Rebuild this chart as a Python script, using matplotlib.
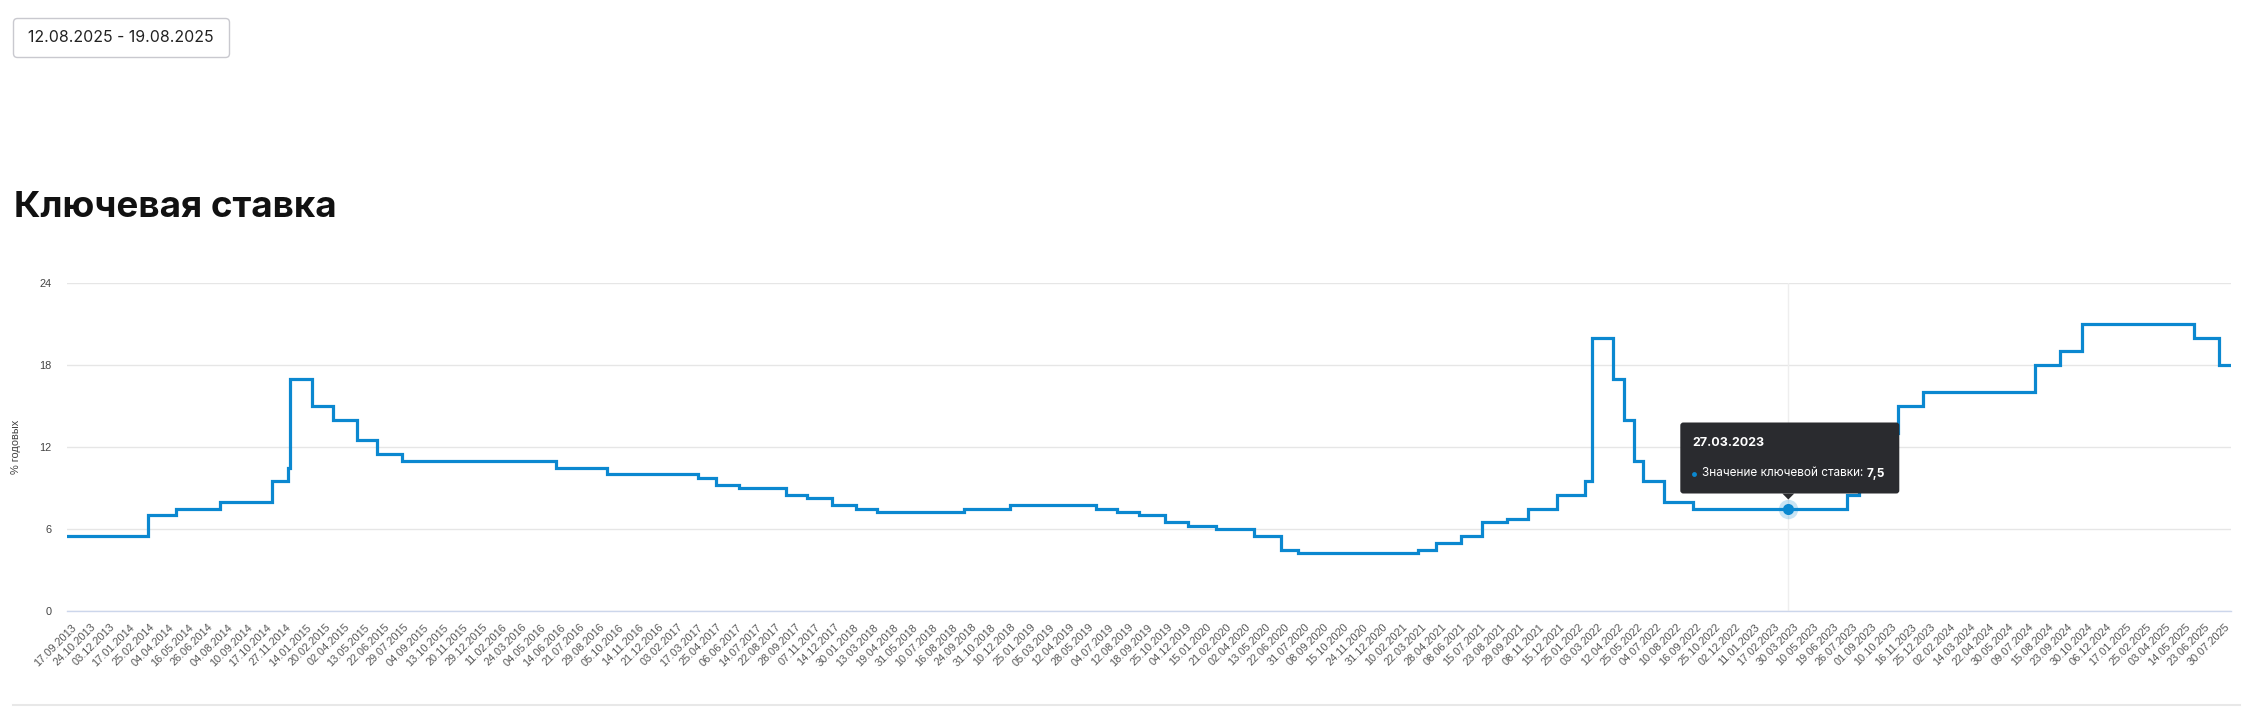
import matplotlib
matplotlib.use('Agg')
import matplotlib.pyplot as plt
import matplotlib.transforms as mtransforms
from matplotlib.patches import FancyBboxPatch, Polygon
import numpy as np
import pandas as pd

W, H = 2257, 709

# key rate changes (date the new rate starts, % per year)
rate_dates = ['17.09.2013', '03.03.2014', '28.04.2014', '28.07.2014', '05.11.2014',
              '12.12.2014', '16.12.2014', '02.02.2015', '16.03.2015', '05.05.2015',
              '16.06.2015', '03.08.2015', '14.06.2016', '19.09.2016', '27.03.2017',
              '02.05.2017', '19.06.2017', '18.09.2017', '30.10.2017', '18.12.2017',
              '12.02.2018', '26.03.2018', '17.09.2018', '17.12.2018', '17.06.2019',
              '29.07.2019', '09.09.2019', '28.10.2019', '16.12.2019', '10.02.2020',
              '27.04.2020', '22.06.2020', '27.07.2020', '22.03.2021', '26.04.2021',
              '15.06.2021', '26.07.2021', '13.09.2021', '25.10.2021', '20.12.2021',
              '14.02.2022', '28.02.2022', '11.04.2022', '04.05.2022', '27.05.2022',
              '14.06.2022', '25.07.2022', '19.09.2022', '24.07.2023', '15.08.2023',
              '18.09.2023', '30.10.2023', '18.12.2023', '29.07.2024', '16.09.2024',
              '28.10.2024', '09.06.2025', '28.07.2025']
rates = [5.5, 7, 7.5, 8, 9.5, 10.5, 17, 15, 14, 12.5,
         11.5, 11, 10.5, 10, 9.75, 9.25, 9, 8.5, 8.25, 7.75,
         7.5, 7.25, 7.5, 7.75, 7.5, 7.25, 7, 6.5, 6.25, 6,
         5.5, 4.5, 4.25, 4.5, 5, 5.5, 6.5, 6.75, 7.5, 8.5,
         9.5, 20, 17, 14, 11, 9.5, 8, 7.5, 8.5, 12,
         13, 15, 16, 18, 19, 21, 20, 18]
end_date = '19.08.2025'

# category labels shown under the axis
tick_labels = ['17.09.2013', '24.10.2013', '03.12.2013', '17.01.2014', '25.02.2014', '04.04.2014',
               '16.05.2014', '26.06.2014', '04.08.2014', '10.09.2014', '17.10.2014', '27.11.2014',
               '14.01.2015', '20.02.2015', '02.04.2015', '13.05.2015', '22.06.2015', '29.07.2015',
               '04.09.2015', '13.10.2015', '20.11.2015', '29.12.2015', '11.02.2016', '24.03.2016',
               '04.05.2016', '14.06.2016', '21.07.2016', '29.08.2016', '05.10.2016', '14.11.2016',
               '21.12.2016', '03.02.2017', '17.03.2017', '25.04.2017', '06.06.2017', '14.07.2017',
               '22.08.2017', '28.09.2017', '07.11.2017', '14.12.2017', '30.01.2018', '13.03.2018',
               '19.04.2018', '31.05.2018', '10.07.2018', '16.08.2018', '24.09.2018', '31.10.2018',
               '10.12.2018', '25.01.2019', '05.03.2019', '12.04.2019', '28.05.2019', '04.07.2019',
               '12.08.2019', '18.09.2019', '25.10.2019', '04.12.2019', '15.01.2020', '21.02.2020',
               '02.04.2020', '13.05.2020', '22.06.2020', '31.07.2020', '08.09.2020', '15.10.2020',
               '24.11.2020', '31.12.2020', '10.02.2021', '22.03.2021', '28.04.2021', '08.06.2021',
               '15.07.2021', '23.08.2021', '29.09.2021', '08.11.2021', '15.12.2021', '25.01.2022',
               '03.03.2022', '12.04.2022', '25.05.2022', '04.07.2022', '10.08.2022', '16.09.2022',
               '25.10.2022', '02.12.2022', '11.01.2023', '17.02.2023', '30.03.2023', '10.05.2023',
               '19.06.2023', '26.07.2023', '01.09.2023', '10.10.2023', '16.11.2023', '25.12.2023',
               '02.02.2024', '14.03.2024', '22.04.2024', '30.05.2024', '09.07.2024', '15.08.2024',
               '23.09.2024', '30.10.2024', '06.12.2024', '17.01.2025', '25.02.2025', '03.04.2025',
               '14.05.2025', '23.06.2025', '30.07.2025']

hover_date = '27.03.2023'
hover_value = 7.5
date_range = '12.08.2025 - 19.08.2025'

BLUE = '#0b88d0'


def to_num(s):
    return pd.to_datetime(s, format='%d.%m.%Y').map(pd.Timestamp.toordinal).to_numpy(dtype=float) \
        if not isinstance(s, str) else float(pd.to_datetime(s, format='%d.%m.%Y').toordinal())


tick_num = to_num(pd.Series(tick_labels))
tick_idx = np.arange(len(tick_labels), dtype=float)


def cat_pos(d):
    # category position of a date: interpolate between labelled points
    n = to_num(d)
    last_step = tick_num[-1] - tick_num[-2]
    return np.where(n > tick_num[-1],
                    tick_idx[-1] + (n - tick_num[-1]) / last_step,
                    np.interp(n, tick_num, tick_idx))


xs = cat_pos(pd.Series(rate_dates))
x_end = float(cat_pos(end_date))
step_x = np.append(xs, x_end)
step_y = np.append(rates, rates[-1])

fig = plt.figure(figsize=(W / 100, H / 100), dpi=100)
ax = fig.add_axes([67 / W, 1 - 611 / H, (2231 - 67) / W, (611 - 283) / H])

ax.set_xlim(0, x_end)
ax.set_ylim(0, 24)
ax.set_yticks([0, 6, 12, 18, 24])
ax.grid(axis='y', color='#e6e6e6', lw=1.0)
ax.set_axisbelow(True)
for s in ['top', 'right', 'left']:
    ax.spines[s].set_visible(False)
ax.spines['bottom'].set_color('#ccd6eb')
ax.spines['bottom'].set_linewidth(1.0)

hx = float(cat_pos(hover_date))
ax.axvline(hx, color='#eeeeee', lw=1.0, zorder=1)

ax.step(step_x, step_y, where='post', color=BLUE, lw=2.3, zorder=3, solid_joinstyle='miter')

ax.plot([hx], [hover_value], 'o', ms=14, color=BLUE, alpha=0.22, mew=0, zorder=4)
ax.plot([hx], [hover_value], 'o', ms=8, color=BLUE, mew=0, zorder=5)

ax.set_xticks(tick_idx)
ax.set_xticklabels(tick_labels, rotation=45, ha='right', va='top', rotation_mode='anchor',
                   fontsize=7.9, color='#555555', family='Liberation Sans')
ax.tick_params(axis='x', length=0, pad=8)
ax.tick_params(axis='y', length=0, pad=11, labelsize=7.9, labelcolor='#444444')
for lab in ax.get_yticklabels():
    lab.set_family('Liberation Sans')
shift = mtransforms.ScaledTranslation(4 / 100, 0, fig.dpi_scale_trans)
for lab in ax.get_xticklabels():
    lab.set_transform(lab.get_transform() + shift)

fig.text(16 / W, 1 - 447 / H, '% годовых', rotation=90, ha='center', va='center',
         fontsize=7.9, color='#444444', family='Liberation Sans')

# header
fig.text(14 / W, 1 - 217 / H, 'Ключевая ставка', fontsize=26.5, fontweight='bold',
         family='Inter', color='#111111', va='baseline')

ident = mtransforms.IdentityTransform()
fig.patches.append(FancyBboxPatch((13.5, H - 57.5), 216, 39, boxstyle='round,pad=0,rounding_size=4',
                                  fc='white', ec='#c9c9cf', lw=1.0, transform=ident, figure=fig))
fig.text(121 / W, 1 - 38 / H, date_range, ha='center', va='center', fontsize=11.4,
         family='Inter', color='#222222')

fig.add_artist(plt.Line2D([13 / W, 2240 / W], [1 - 705 / H, 1 - 705 / H], color='#e8e8e8', lw=1.5))

# tooltip
mx, my = ax.transData.transform((hx, hover_value))
box_l, box_r = mx - 108, mx + 111
box_b, box_t = my + 15, my + 86
fig.patches.append(FancyBboxPatch((box_l, box_b), box_r - box_l, box_t - box_b,
                                  boxstyle='round,pad=0,rounding_size=3', fc='#2a2b2f', ec='none',
                                  transform=ident, figure=fig, zorder=10))
fig.patches.append(Polygon([(mx - 6, box_b), (mx + 6, box_b), (mx, box_b - 6)], closed=True,
                           fc='#2a2b2f', ec='none', transform=ident, figure=fig, zorder=10))
fig.text((box_l + 12) / W, (my + 66) / H, hover_date, color='white', fontweight='bold',
         fontsize=9, family='Inter', va='center', zorder=11)
fig.add_artist(plt.Line2D([(box_l + 14) / W], [(my + 35) / H], marker='o', ms=3.5, color=BLUE,
                          mew=0, zorder=11))
t1 = fig.text((box_l + 22) / W, (my + 35) / H, 'Значение ключевой ставки: ', color='white',
              fontsize=8.5, family='Inter', va='center', zorder=11)
r = fig.canvas.get_renderer()
bb = t1.get_window_extent(renderer=r)
fig.text(bb.x1 / W, (my + 35) / H, str(hover_value).replace('.', ','), color='white',
         fontweight='bold', fontsize=8.5, family='Inter', va='center', zorder=11)

fig.savefig('out.png', dpi=100)
